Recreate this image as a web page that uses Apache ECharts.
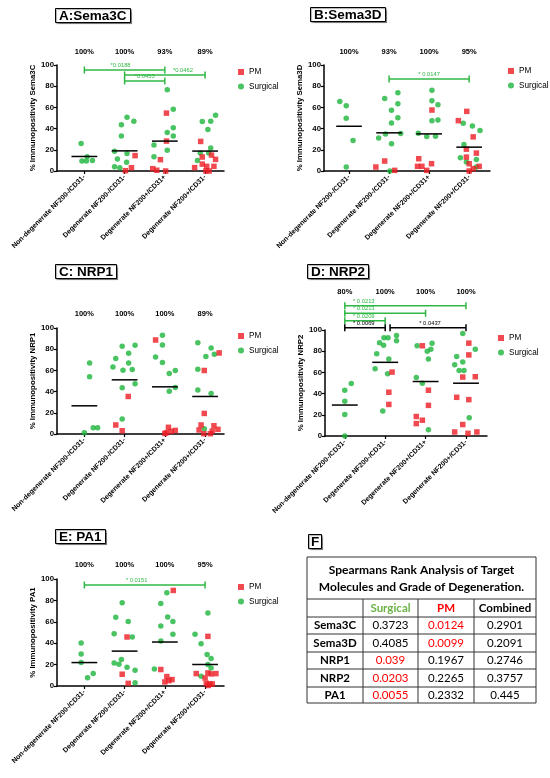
<!DOCTYPE html>
<html><head><meta charset="utf-8">
<script src="https://cdn.jsdelivr.net/npm/echarts@6/dist/echarts.min.js"></script>
<style>html,body{margin:0;padding:0;background:#fff}#c{width:550px;height:778px}</style>
</head><body><div id="c"></div>
<script>
// ---------- DATA ----------
const categories = ['Non-degenerate NF200-/CD31-', 'Degenerate NF200-/CD31-', 'Degenerate NF200+/CD31+', 'Degenerate NF200+/CD31-'];

// points: [category index, jitter, value]
const sema3cSurgical = [[0,-0.08,26],[0,-0.06,9.4],[0,0.05,9.4],[0,0.07,13.5],[0,0.2,10],
 [1,0.06,50.6],[1,0.23,46.9],[1,-0.08,43.75],[1,-0.08,33],[1,-0.25,18.75],[1,-0.18,11.25],[1,0.06,16.5],[1,0.05,8.2],[1,-0.25,4.1],[1,-0.12,3.1],
 [2,0.06,76.6],[2,0.21,58.3],[2,0.21,40.8],[2,0.06,36.4],[2,0.21,33],[2,-0.27,24.5],[2,0.06,19.5],[2,-0.27,13.5],
 [3,0.26,52.7],[3,-0.07,46.8],[3,0.14,46.9],[3,0.07,39.2],[3,0.14,21.6],[3,-0.12,16.9],[3,0.09,16.9],[3,-0.19,10]];
const sema3cPM = [[1,0.26,14.5],[1,0.17,3.1],[1,0.02,0.3],
 [2,0.04,54.6],[2,0.04,28.2],[2,-0.11,10.7],[2,-0.3,2.2],[2,-0.2,0.7],[2,0.02,0],
 [3,-0.11,27.9],[3,-0.07,13.2],[3,0.16,15],[3,0.26,11],[3,-0.07,6.5],[3,-0.26,3.2],[3,0.04,4.4],[3,0.22,4.4],[3,0.02,0],[3,0.1,0]];
const sema3cMeans = [13.7, 19, 28.2, 18.8];
const sema3cPct = ['100%', '100%', '93%', '89%'];
// brackets: [from, to, level, label position, label, colour]
const sema3cBrackets = [[0,2,95.3,0.9,'*0.0188','green'],[1,3,90.6,2.45,'*0.0462','green'],[1,2,84.9,1.5,'*0.0455','green']];

const sema3dSurgical = [[0,-0.23,65.6],[0,-0.07,61.6],[0,-0.07,49.7],[0,0.1,28.75],[0,-0.07,3.75],
 [1,-0.11,68.4],[1,0.22,73.75],[1,0.22,63.4],[1,0.06,57.2],[1,0.22,50.3],[1,0.06,45.3],[1,-0.09,35],[1,0.29,35.3],[1,-0.26,31.25],[1,0.06,25.6],[1,0.02,0],
 [2,0.07,76.25],[2,0.07,66.25],[2,0.22,62.5],[2,0.07,47.5],[2,0.22,48.1],[2,-0.27,35.6],[2,-0.06,32.5],[2,0.16,32.8],
 [3,-0.15,45],[3,0.08,42.5],[3,0.27,38.1],[3,-0.13,25],[3,-0.22,12.5],[3,0.18,10.9],[3,-0.07,8.4],[3,0.18,3.75]];
const sema3dPM = [[1,-0.33,3.75],[1,-0.11,9.4],[1,0.14,0.6],
 [2,0.07,57.5],[2,-0.26,11.6],[2,-0.29,4.4],[2,-0.18,4.4],[2,-0.06,0.6],[2,0.06,6.9],
 [3,-0.06,56.25],[3,-0.27,47.5],[3,0.1,32.2],[3,-0.07,20.6],[3,0.18,16.9],[3,-0.07,13.1],[3,0,6.9],[3,0.25,4.4],[3,0.1,2.2],[3,0,0]];
const sema3dMeans = [42.2, 36, 35, 22.5];
const sema3dPct = ['100%', '93%', '100%', '95%'];
const sema3dBrackets = [[1,3,86.8,2.0,'* 0.0147','green']];

const nrp1Surgical = [[0,0.13,67],[0,0.13,54],[0,0,1.2],[0,0.22,6],[0,0.33,6],
 [1,-0.06,82.8],[1,0.26,83.7],[1,0.1,76.2],[1,-0.22,71.2],[1,-0.29,63.3],[1,0.1,67],[1,-0.04,60.2],[1,0.19,60.8],[1,0.26,47.3],[1,-0.06,43.6],[1,-0.06,14.1],
 [2,-0.06,93.1],[2,-0.06,84],[2,-0.23,72.7],[2,-0.06,67.4],[2,0.11,57],[2,0.26,59.9],[2,0.26,43.9],[2,0.11,40.4],
 [3,-0.18,86.2],[3,0.15,81.2],[3,0.02,73],[3,0.23,75.2],[3,-0.18,61.1],[3,-0.18,41.4],[3,0.15,38.2],[3,-0.02,5]];
const nrp1PM = [[1,0.09,35.4],[1,-0.22,8.5],[1,-0.06,3.1],
 [2,-0.23,88.7],[2,0.09,6.3],[2,0.04,1.2],[2,0.16,2.5],[2,0.26,3.4],[2,0,0.5],
 [3,0.35,76.5],[3,-0.02,59.9],[3,-0.02,19.4],[3,-0.1,8.5],[3,-0.15,3.8],[3,0.22,7.8],[3,0.32,4.4],[3,-0.03,0.3],[3,0.13,0.3],[3,0.18,2.8]];
const nrp1Means = [26.6, 51.1, 44.5, 35.4];
const nrp1Pct = ['100%', '100%', '100%', '89%'];
const nrp1Brackets = [];

const nrp2Surgical = [[0,0.16,49.5],[0,0,43.2],[0,0,32.7],[0,0,20.3],[0,0,0],
 [1,-0.03,92.7],[1,0.07,92.7],[1,0.28,94.9],[1,0.28,89.8],[1,-0.14,87.9],[1,-0.04,85.7],[1,-0.21,77.5],[1,0.09,72.7],[1,-0.25,63.5],[1,0.06,58.7],[1,-0.06,23.5],
 [2,-0.21,85.1],[2,0.16,87.6],[2,0.13,81.9],[2,0.04,80],[2,0.07,72.7],[2,-0.23,55.2],[2,-0.08,49.8],[2,0.07,6],
 [3,-0.08,96.8],[3,0.23,81.9],[3,-0.23,74.9],[3,-0.08,69.8],[3,-0.28,67.3],[3,-0.17,61.9],[3,-0.05,61.9],[3,0.08,17.1]];
const nrp2PM = [[1,0.17,60.3],[1,0.09,41.3],[1,0.09,29.8],
 [2,-0.08,85.1],[2,0.07,43.2],[2,0.07,28.9],[2,-0.23,18.4],[2,-0.23,11.7],[2,-0.08,14.9],
 [3,0.07,87.6],[3,0.07,76.5],[3,-0.08,55.6],[3,0.23,55.9],[3,-0.23,36.5],[3,0.07,34.3],[3,-0.08,10.8],[3,-0.28,3.8],[3,0.05,2.5],[3,0.27,3.8]];
const nrp2Means = [29.2, 69.5, 51.4, 49.8];
const nrp2Pct = ['80%', '100%', '100%', '100%'];
const nrp2Brackets = [[0,3,122.9,0.47,'* 0.0213','green'],[0,2,115.8,0.47,'* 0.0213','green'],[0,1,108.8,0.47,'* 0.0209','green'],
 [0,1,102.2,0.47,'* 0.0069','black'],[1.12,3,102.2,2.11,'* 0.0437','black']];

const pa1Surgical = [[0,-0.08,40.1],[0,-0.08,29.8],[0,-0.08,21.9],[0,0.08,7.8],[0,0.22,11.6],
 [1,-0.06,77.7],[1,-0.22,64.3],[1,0.09,60.2],[1,-0.26,48.9],[1,0.19,45.8],[1,-0.08,24.8],[1,-0.26,21.6],[1,-0.14,20.4],[1,0.06,17.6],[1,0.26,14.7],[1,0.26,3.1],
 [2,0.05,87.1],[2,-0.1,77.1],[2,0.07,64.6],[2,-0.1,56.1],[2,0.2,60.2],[2,0.2,48.3],[2,-0.1,42],[2,-0.26,16],
 [3,0.07,68.3],[3,-0.25,48.3],[3,-0.1,39.5],[3,0.05,29.5],[3,0.15,25.7],[3,0.07,20.1],[3,0.15,16.9],[3,-0.1,9.1]];
const pa1PM = [[1,0.06,45.8],[1,-0.06,11],[1,0.09,2.5],
 [2,0.21,89.3],[2,-0.1,15.4],[2,0.05,8.8],[2,0,3.8],[2,0.1,5],[2,0.18,6],
 [3,0.07,46.4],[3,-0.22,11.6],[3,0.07,12.2],[3,0.15,11.3],[3,0.27,11.6],[3,0,7.5],[3,0.03,2.5],[3,0.12,1.9],[3,0.18,1.9],[3,0.08,0.5]];
const pa1Means = [21.9, 32.6, 41.1, 20.1];
const pa1Pct = ['100%', '100%', '100%', '95%'];
const pa1Brackets = [[0,3,94.4,1.3,'* 0.0151','green']];

// table F
const tableTitle = ['Spearmans Rank Analysis of Target', 'Molecules and Grade of Degeneration.'];
const tableHeader = ['', 'Surgical', 'PM', 'Combined'];
const tableRows = ['Sema3C', 'Sema3D', 'NRP1', 'NRP2', 'PA1'];
const surgicalRho = ['0.3723', '0.4085', '0.039', '0.0203', '0.0055'];
const pmRho = ['0.0124', '0.0099', '0.1967', '0.2265', '0.2332'];
const combinedRho = ['0.2901', '0.2091', '0.2746', '0.3757', '0.445'];

// ---------- STYLE / LAYOUT ----------
const GREEN = '#1db43c', RED = '#ec1c24', BGREEN = '#2fb844';
const FONT = 'Liberation Sans';
const panels = [
  {title:'A:Sema3C', yName:'% Immunopositivity Sema3C', s:sema3cSurgical, p:sema3cPM, m:sema3cMeans, pct:sema3cPct, br:sema3cBrackets,
   grid:{left:57,top:65,width:167,height:106}, xr:[-0.68,3.47], pctOff:5, leg:{left:238,top:68}, tpos:{left:55,top:8}},
  {title:'B:Sema3D', yName:'% Immunopositivity Sema3D', s:sema3dSurgical, p:sema3dPM, m:sema3dMeans, pct:sema3dPct, br:sema3dBrackets,
   grid:{left:324,top:65,width:166,height:106}, xr:[-0.625,3.52], pctOff:5, leg:{left:508,top:67}, tpos:{left:310,top:7}},
  {title:'C: NRP1', yName:'% Immunopositivity NRP1', s:nrp1Surgical, p:nrp1PM, m:nrp1Means, pct:nrp1Pct, br:nrp1Brackets,
   grid:{left:57,top:328,width:167,height:106}, xr:[-0.68,3.47], pctOff:6, leg:{left:238,top:332}, tpos:{left:55,top:264}},
  {title:'D: NRP2', yName:'% Immunopositivity NRP2', s:nrp2Surgical, p:nrp2PM, m:nrp2Means, pct:nrp2Pct, br:nrp2Brackets,
   grid:{left:325,top:330,width:162,height:106}, xr:[-0.49,3.52], pctOff:30, leg:{left:498,top:334}, tpos:{left:307,top:264}},
  {title:'E: PA1', yName:'% Immunopositivity PA1', s:pa1Surgical, p:pa1PM, m:pa1Means, pct:pa1Pct, br:pa1Brackets,
   grid:{left:57,top:579,width:167,height:107}, xr:[-0.68,3.47], pctOff:6, leg:{left:238,top:583}, tpos:{left:55,top:529}}
];

const option = {animation:false, backgroundColor:'#fff', grid:[], xAxis:[], yAxis:[], series:[], legend:[], title:[], graphic:[]};
const custTicks = [0,1,2,3];

panels.forEach((P, i) => {
  option.grid.push(Object.assign({containLabel:false}, P.grid));
  option.title.push({text:P.title, left:P.tpos.left, top:P.tpos.top, padding:[1,4,0,4], borderColor:'#000', borderWidth:1,
    shadowColor:'rgba(0,0,0,0.35)', shadowOffsetX:1, shadowOffsetY:1, shadowBlur:1, backgroundColor:'#fff',
    textStyle:{fontFamily:FONT, fontSize:13.5, fontWeight:'bold', color:'#000'}});
  option.xAxis.push({type:'value', gridIndex:i, min:P.xr[0], max:P.xr[1], position:'bottom',
    axisLine:{show:true, onZero:false, lineStyle:{color:'#000', width:1.5}},
    axisTick:{show:true, customValues:custTicks, length:3, lineStyle:{color:'#000', width:1.2}},
    axisLabel:{customValues:custTicks, rotate:45, margin:5, formatter:v => categories[Math.round(v)],
      fontFamily:FONT, fontSize:7, fontWeight:'bold', color:'#000'},
    splitLine:{show:false}});
  option.xAxis.push({type:'value', gridIndex:i, min:P.xr[0], max:P.xr[1], position:'top', offset:P.pctOff,
    axisLine:{show:false, onZero:false}, axisTick:{show:false}, splitLine:{show:false},
    axisLabel:{customValues:custTicks, margin:4, formatter:v => P.pct[Math.round(v)],
      fontFamily:FONT, fontSize:7.5, fontWeight:'bold', color:'#000'}});
  option.yAxis.push({type:'value', gridIndex:i, min:0, max:100, interval:20, position:'left',
    name:P.yName, nameLocation:'middle', nameGap:13, nameTextStyle:{fontFamily:FONT, fontSize:7.8, fontWeight:'bold', color:'#000'},
    axisLine:{show:true, onZero:false, lineStyle:{color:'#000', width:1.5}},
    axisTick:{show:true, length:3, lineStyle:{color:'#000', width:1.2}},
    axisLabel:{margin:3, fontFamily:FONT, fontSize:7.8, fontWeight:'bold', color:'#000'},
    splitLine:{show:false}});
  option.legend.push({left:P.leg.left, top:P.leg.top, orient:'vertical', itemWidth:6, itemHeight:6, itemGap:6.5, padding:0,
    selectedMode:false, textStyle:{fontFamily:FONT, fontSize:8.2, color:'#000'},
    data:[{name:'PM', icon:'rect'}, {name:'Surgical', icon:'circle'}]});
  const xi = 2*i;
  option.series.push({type:'scatter', name:'Surgical', xAxisIndex:xi, yAxisIndex:i, symbol:'circle', symbolSize:5.5,
    itemStyle:{color:GREEN}, data:P.s.map(d => [d[0]+d[1], d[2]]), z:3});
  option.series.push({type:'scatter', name:'PM', xAxisIndex:xi, yAxisIndex:i, symbol:'rect', symbolSize:5.5,
    itemStyle:{color:RED}, data:P.p.map(d => [d[0]+d[1], d[2]]), z:3});
  option.series.push({type:'custom', name:'mean'+i, xAxisIndex:xi, yAxisIndex:i, silent:true, z:4,
    data:P.m.map((v,k) => [k, v]),
    renderItem:(params, api) => {
      const k = api.value(0), v = api.value(1);
      const a = api.coord([k-0.32, v]), b = api.coord([k+0.32, v]);
      return {type:'line', shape:{x1:a[0], y1:a[1], x2:b[0], y2:b[1]}, style:{stroke:'#000', lineWidth:1.5}};
    }});
  if (P.br.length) {
    option.series.push({type:'custom', name:'sig'+i, xAxisIndex:xi, yAxisIndex:i, silent:true, clip:false, z:5,
      data:P.br.map(b => [b[0], b[1], b[2], b[3]]), encode:{x:[0,1,3], y:2},
      renderItem:(params, api) => {
        const b = P.br[params.dataIndex];
        const a = api.coord([b[0], b[2]]), c = api.coord([b[1], b[2]]), l = api.coord([b[3], b[2]]);
        const col = b[5] === 'green' ? BGREEN : '#000';
        const h = 3.5;
        return {type:'group', children:[
          {type:'line', shape:{x1:a[0], y1:a[1], x2:c[0], y2:c[1]}, style:{stroke:col, lineWidth:1.5}},
          {type:'line', shape:{x1:a[0], y1:a[1]-h, x2:a[0], y2:a[1]+h}, style:{stroke:col, lineWidth:1.5}},
          {type:'line', shape:{x1:c[0], y1:c[1]-h, x2:c[0], y2:c[1]+h}, style:{stroke:col, lineWidth:1.5}},
          {type:'text', x:l[0], y:l[1]-1.5, style:{text:b[4], fill:col, fontSize:5.8, fontFamily:FONT,
            textAlign:'center', textVerticalAlign:'bottom', align:'center', verticalAlign:'bottom'}}
        ]};
      }});
  }
});

// F box title
option.title.push({text:'F', left:308, top:534, padding:[1,3,0,3], borderColor:'#000', borderWidth:1,
  shadowColor:'rgba(0,0,0,0.35)', shadowOffsetX:1, shadowOffsetY:1, shadowBlur:1, backgroundColor:'#fff',
  textStyle:{fontFamily:FONT, fontSize:13.5, fontWeight:'bold', color:'#000'}});

// table F
(function(){
  const TF = 'Lato';
  const L = 307, R = 536, T = 557, B = 703;
  const rowsY = [599, 617, 634, 652, 669, 687, 703];
  const colsX = [307, 363, 418, 474, 536];
  const g = option.graphic;
  const stroke = '#333';
  g.push({type:'rect', shape:{x:L, y:T, width:R-L, height:B-T}, style:{fill:'#fff', stroke:stroke, lineWidth:1}});
  rowsY.slice(0,6).forEach(y => g.push({type:'line', shape:{x1:L, y1:y, x2:R, y2:y}, style:{stroke:stroke, lineWidth:1}}));
  colsX.slice(1,4).forEach(x => g.push({type:'line', shape:{x1:x, y1:rowsY[0], x2:x, y2:B}, style:{stroke:stroke, lineWidth:1}}));
  tableTitle.forEach((t, k) => g.push({type:'text', x:(L+R)/2, y:570 + k*17,
    style:{text:t, fill:'#000', font:'bold 12px ' + TF, textAlign:'center', textVerticalAlign:'middle', align:'center', verticalAlign:'middle'}}));
  const cx = k => (colsX[k] + colsX[k+1]) / 2;
  const cy = r => (rowsY[r] + rowsY[r+1]) / 2;
  const hdrCol = ['#000', '#6ab344', '#ff0000', '#000'];
  tableHeader.forEach((t, k) => { if (t) g.push({type:'text', x:cx(k), y:cy(0),
    style:{text:t, fill:hdrCol[k], font:'bold 11.5px ' + TF, textAlign:'center', textVerticalAlign:'middle', align:'center', verticalAlign:'middle'}}); });
  const cell = (t, k, r, bold, col) => g.push({type:'text', x:cx(k), y:cy(r),
    style:{text:t, fill:col, font:(bold ? 'bold ' : '') + '11.5px ' + TF, textAlign:'center', textVerticalAlign:'middle', align:'center', verticalAlign:'middle'}});
  tableRows.forEach((name, r) => {
    cell(name, 0, r+1, true, '#000');
    cell(surgicalRho[r], 1, r+1, false, parseFloat(surgicalRho[r]) < 0.05 ? '#ff0000' : '#000');
    cell(pmRho[r], 2, r+1, false, parseFloat(pmRho[r]) < 0.05 ? '#ff0000' : '#000');
    cell(combinedRho[r], 3, r+1, false, parseFloat(combinedRho[r]) < 0.05 ? '#ff0000' : '#000');
  });
})();

const chart = echarts.init(document.getElementById('c'), null, {renderer:'canvas'});
chart.setOption(option);
</script></body></html>
